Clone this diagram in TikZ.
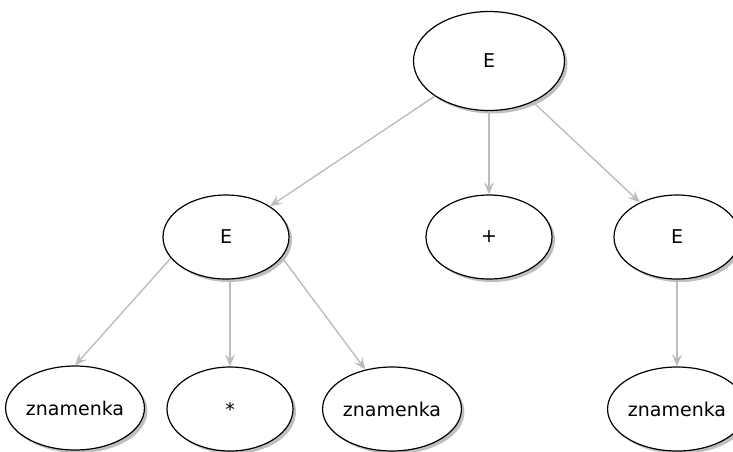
\documentclass[tikz,border=0pt]{standalone}
\usepackage{fontspec}
\setmainfont{DejaVu Sans}
\usetikzlibrary{shapes.geometric,arrows.meta,shadows}
\definecolor{edgegray}{HTML}{BDBDBD}
\begin{document}
\begin{tikzpicture}[x=1pt,y=-1pt,
  tnode/.style={ellipse,draw=black,line width=1.2pt,fill=white,inner sep=0pt,
    minimum width=126pt,minimum height=84pt,font=\fontsize{19}{22}\selectfont,
    drop shadow={shadow xshift=3pt,shadow yshift=-3pt,fill=black,opacity=0.25}},
  conn/.style={draw=edgegray,line width=1.4pt,
    -{Stealth[length=12pt,width=10pt,inset=4.5pt]}}]
\useasboundingbox (0,0) rectangle (733,451);
\clip (0,0) rectangle (733,451);
\node[tnode,minimum width=151pt,minimum height=99pt] (top) at (489,61) {E};
\node[tnode] (e1) at (226,237) {E};
\node[tnode] (plus) at (489,237) {+};
\node[tnode] (e2) at (677,237) {E};
\node[tnode] (z1) at (75,408) {znamenka};
\node[tnode] (star) at (230,409) {*};
\node[tnode] (z3) at (392,409) {znamenka};
\node[tnode] (z4) at (677,409) {znamenka};
\draw[conn] (top.213) -- (e1.35);
\draw[conn] (top.south) -- (plus.north);
\draw[conn] (top.-43) -- (e2.137);
\draw[conn] (e1.201) -- (z1.north);
\draw[conn] (star.north |- e1.south) -- (star.north);
\draw[conn] (e1.-20) -- (z3.124);
\draw[conn] (e2.south) -- (z4.north);
\end{tikzpicture}
\end{document}
